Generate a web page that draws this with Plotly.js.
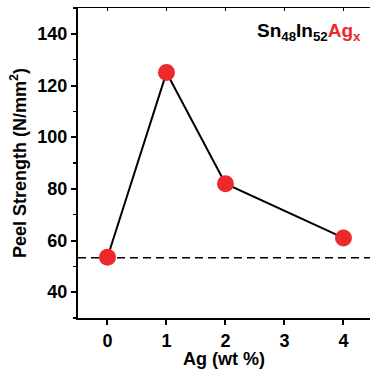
<!DOCTYPE html>
<html><head><meta charset="utf-8">
<script src="https://cdn.plot.ly/plotly-3.0.1.min.js"></script>
<style>html,body{margin:0;padding:0;background:#fff;}</style>
</head><body>
<div id="plot" style="width:370px;height:369px;"></div>
<script>
const agContent = [0, 1, 2, 4];
const peelStrength = [53.5, 125, 82, 61];
const referenceLevel = 53.3;
const xTicks = [0, 1, 2, 3, 4];
const yTicks = [40, 60, 80, 100, 120, 140];

const red = '#ec2a2c';
const fontFam = 'Liberation Sans, Arial, sans-serif';

const traces = [{
  x: agContent, y: peelStrength, type: 'scatter', mode: 'lines+markers',
  line: {color: '#000', width: 2},
  marker: {color: red, size: 17, line: {width: 0}},
  showlegend: false, cliponaxis: false
}, {x: [0], y: [null], xaxis: 'x2', yaxis: 'y', showlegend: false, hoverinfo: 'skip', type: 'scatter', mode: 'markers'}];

const layout = {
  width: 370, height: 369,
  margin: {l: 78, r: 0, t: 8, b: 51},
  paper_bgcolor: '#fff', plot_bgcolor: '#fff',
  font: {family: fontFam, color: '#000'},
  xaxis: {
    range: [-0.5, 4.45], tickvals: xTicks, ticktext: xTicks.map(v => '<b>' + v + '</b>'),
    showgrid: false, zeroline: false, showline: true, linecolor: '#000', linewidth: 2,
    ticks: 'outside', ticklen: 5, tickwidth: 2, tickcolor: '#000',
    tickfont: {size: 18, family: fontFam},
    title: {text: '<b>Ag (wt %)</b>', font: {size: 18, family: fontFam}, standoff: 6}
  },
  xaxis2: {
    overlaying: 'x', side: 'top', matches: 'x', range: [-0.5, 4.45], tickvals: xTicks,
    showticklabels: false, showgrid: false, zeroline: false, showline: true,
    linecolor: '#000', linewidth: 1, ticks: 'inside', ticklen: 3, tickwidth: 1, tickcolor: '#000'
  },
  yaxis: {
    range: [30, 150], tickvals: yTicks, ticktext: yTicks.map(v => '<b>' + v + '</b>'),
    showgrid: false, zeroline: false, showline: true, linecolor: '#000', linewidth: 2,
    ticks: 'outside', ticklen: 5, tickwidth: 2, tickcolor: '#000',
    minor: {dtick: 20, tick0: 30, ticks: 'outside', ticklen: 3, tickwidth: 1.5, tickcolor: '#000', showgrid: false},
    tickfont: {size: 18, family: fontFam},
    title: {text: '<b>Peel Strength (N/mm<sup>2</sup>)</b>', font: {size: 18, family: fontFam}, standoff: 6}
  },
  shapes: [{
    type: 'line', xref: 'paper', x0: 0, x1: 1, yref: 'y', y0: referenceLevel, y1: referenceLevel,
    line: {color: '#000', width: 1.5, dash: '8px,5px'}, layer: 'below'
  }],
  annotations: [{
    xref: 'paper', yref: 'paper', x: 0.975, y: 0.968, xanchor: 'right', yanchor: 'top',
    showarrow: false,
    text: '<b>Sn<sub>48</sub>In<sub>52</sub><span style="color:' + red + '">Ag<sub>x</sub></span></b>',
    font: {size: 19, family: fontFam, color: '#000'}
  }]
};

Plotly.newPlot('plot', traces, layout, {displayModeBar: false, staticPlot: true});
</script>
</body></html>
